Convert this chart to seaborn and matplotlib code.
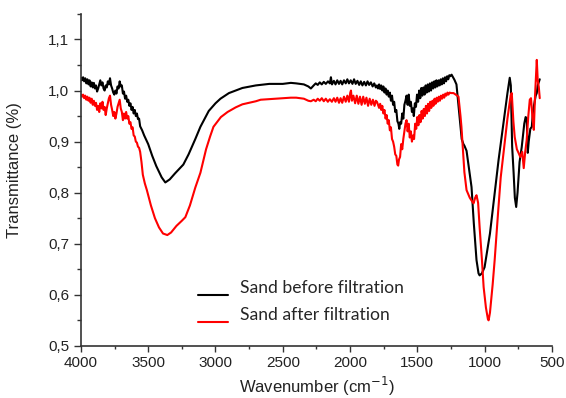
import numpy as np
import pandas as pd
import matplotlib
matplotlib.use("Agg")
import matplotlib.pyplot as plt
import seaborn as sns
from matplotlib.ticker import MultipleLocator, FuncFormatter
from matplotlib.lines import Line2D

# ---- data ----
wn_before = [4000, 3992, 3984, 3976, 3968, 3960, 3952, 3944, 3936, 3928, 3920, 3912, 3904, 3896,
             3888, 3880, 3872, 3864, 3856, 3848, 3840, 3832, 3824, 3816, 3808, 3800, 3792, 3784,
             3776, 3768, 3760, 3752, 3744, 3736, 3728, 3720, 3712, 3704, 3696, 3688, 3680, 3672,
             3664, 3656, 3648, 3640, 3632, 3624, 3616, 3608, 3600, 3592, 3584, 3576, 3568, 3560,
             3545, 3530, 3500, 3470, 3440, 3400, 3373, 3340, 3300, 3239, 3200, 3150, 3112, 3050,
             3000, 2963, 2900, 2800, 2700, 2600, 2500, 2440, 2400, 2343, 2310, 2291,
             2270, 2255, 2240, 2225, 2210, 2195, 2180, 2164, 2150, 2142, 2134, 2120, 2108, 2095,
             2082, 2070, 2058, 2045, 2032, 2020, 2008, 1995, 1982, 1970, 1958, 1945, 1932, 1920,
             1908, 1895, 1882, 1870, 1858, 1845, 1832, 1820, 1808,
             1800, 1792, 1784, 1776, 1768, 1760, 1752, 1744, 1736, 1728, 1720, 1712, 1704, 1696,
             1688, 1680, 1672, 1664, 1656, 1648, 1640, 1634, 1628, 1620, 1612, 1604, 1596, 1588,
             1580, 1572, 1564, 1556, 1548, 1540, 1532, 1526, 1518, 1510, 1502, 1494, 1486, 1478,
             1470, 1462, 1454, 1446, 1438, 1430, 1422, 1414, 1406, 1398, 1390, 1382, 1374, 1366,
             1358, 1350, 1342, 1334, 1326, 1318, 1310, 1302, 1294, 1286, 1278, 1270, 1262, 1254,
             1245, 1224, 1209, 1187, 1170, 1157, 1150, 1134, 1120, 1097, 1080, 1060, 1045, 1037,
             1020, 1000, 960, 920, 896, 860, 830, 813, 805, 795, 784, 775, 765, 755, 740, 724,
             705, 695, 687, 679, 672, 660, 649, 640, 620, 612, 605, 590]
tr_before = [1.025, 1.020, 1.026, 1.018, 1.024, 1.014, 1.022, 1.012, 1.020, 1.008, 1.016, 1.006,
             1.015, 1.004, 1.010, 0.998, 1.004, 1.012, 1.020, 1.010, 1.016, 1.004, 1.000, 1.010,
             1.006, 1.018, 1.012, 1.024, 1.010, 1.004, 0.996, 0.992, 1.000, 0.994, 1.008, 1.004,
             1.018, 1.008, 1.010, 0.994, 0.998, 0.984, 0.990, 0.978, 0.982, 0.970, 0.975, 0.962,
             0.968, 0.955, 0.962, 0.950, 0.955, 0.944, 0.945, 0.930,
             0.922, 0.912, 0.895, 0.872, 0.852, 0.830, 0.820, 0.826, 0.838, 0.855, 0.875, 0.905,
             0.929, 0.960, 0.975, 0.984, 0.995, 1.005, 1.010, 1.013, 1.013, 1.015, 1.014, 1.012,
             1.008, 1.004,
             1.010, 1.014, 1.011, 1.016, 1.012, 1.017, 1.013, 1.018, 1.014, 1.026, 1.012, 1.019,
             1.012, 1.020, 1.013, 1.019, 1.012, 1.020, 1.014, 1.022, 1.014, 1.020, 1.013, 1.022,
             1.013, 1.019, 1.011, 1.018, 1.010, 1.017, 1.010, 1.018, 1.011, 1.016, 1.008, 1.014,
             1.006,
             1.010, 1.004, 1.012, 1.003, 1.010, 1.000, 1.008, 0.996, 1.004, 0.992, 1.000, 0.988,
             0.996, 0.980, 0.990, 0.972, 0.978, 0.958, 0.962, 0.940, 0.935, 0.925, 0.938, 0.935,
             0.955, 0.945, 0.972, 0.980, 0.990, 0.972, 0.992, 0.970, 0.978, 0.958, 0.965, 0.950,
             0.975, 0.968, 0.992, 0.978, 1.000, 0.985, 1.005, 0.990, 1.006, 0.992, 1.010, 0.996,
             1.012, 0.998, 1.014, 1.000, 1.016, 1.004, 1.018, 1.006, 1.020, 1.008, 1.020, 1.010,
             1.022, 1.012, 1.024, 1.014, 1.026, 1.018, 1.028, 1.022, 1.030, 1.028,
             1.031, 1.021, 1.012, 0.952, 0.905, 0.895, 0.892, 0.882, 0.855, 0.811, 0.740, 0.668,
             0.642, 0.638, 0.642, 0.654, 0.720, 0.810, 0.864, 0.935, 0.995, 1.025, 1.010, 0.890,
             0.838, 0.790, 0.772, 0.800, 0.860, 0.889, 0.935, 0.948, 0.946, 0.878, 0.900, 0.925,
             0.929, 0.960, 0.990, 0.995, 1.010, 1.022]

wn_after = [4000, 3992, 3984, 3976, 3968, 3960, 3952, 3944, 3936, 3928, 3920, 3912, 3904, 3896,
            3888, 3880, 3872, 3864, 3856, 3848, 3840, 3832, 3824, 3816, 3808, 3800, 3792, 3784,
            3776, 3768, 3760, 3752, 3744, 3736, 3728, 3720, 3712, 3704, 3696, 3688, 3680, 3672,
            3664, 3656, 3648, 3640, 3632, 3624, 3616, 3608, 3600, 3592, 3584, 3576, 3568, 3560,
            3550, 3540, 3525, 3510, 3480, 3450, 3420, 3390, 3358, 3330, 3290, 3250, 3224, 3190,
            3150, 3112, 3070, 3040, 3015, 2960, 2910, 2850, 2800, 2700, 2664, 2550, 2440, 2400,
            2343, 2310, 2291,
            2270, 2255, 2240, 2225, 2210, 2195, 2180, 2165, 2150, 2135, 2120, 2108, 2095, 2082,
            2070, 2058, 2045, 2032, 2020, 2008, 1998, 1993, 1986, 1975, 1962, 1950, 1938, 1926,
            1914, 1902, 1890, 1878, 1866, 1854, 1842, 1830, 1818, 1808,
            1800, 1792, 1784, 1776, 1768, 1760, 1752, 1744, 1736, 1728, 1720, 1712, 1704, 1696,
            1688, 1680, 1672, 1664, 1656, 1648, 1642, 1636, 1628, 1620, 1612, 1604, 1596, 1588,
            1580, 1572, 1564, 1556, 1548, 1540, 1532, 1524, 1516, 1508, 1500, 1492, 1484, 1476,
            1468, 1460, 1452, 1444, 1436, 1428, 1420, 1412, 1404, 1396, 1388, 1380, 1372, 1364,
            1356, 1348, 1340, 1332, 1324, 1316, 1308, 1300, 1292, 1284, 1276, 1268, 1260, 1250,
            1231, 1209, 1194, 1179, 1172, 1160, 1150, 1134, 1110, 1090, 1082, 1070, 1060, 1048,
            1037, 1020, 1007, 990, 975, 970, 960, 940, 925, 900, 880, 851, 830, 806, 798, 786,
            776, 760, 746, 735, 720, 709, 698, 687, 675, 664, 655, 645, 634, 625, 612, 605,
            597, 590]
tr_after = [0.992, 0.988, 0.992, 0.985, 0.990, 0.982, 0.988, 0.980, 0.986, 0.976, 0.984, 0.972,
            0.980, 0.970, 0.976, 0.962, 0.970, 0.958, 0.975, 0.965, 0.978, 0.962, 0.968, 0.952,
            0.965, 0.975, 0.985, 0.990, 0.972, 0.962, 0.950, 0.958, 0.945, 0.955, 0.968, 0.975,
            0.982, 0.965, 0.958, 0.942, 0.955, 0.945, 0.958, 0.945, 0.950, 0.935, 0.938, 0.925,
            0.928, 0.912, 0.910, 0.900, 0.898, 0.890, 0.888, 0.880,
            0.860, 0.835, 0.818, 0.805, 0.775, 0.750, 0.732, 0.720, 0.717, 0.722, 0.735, 0.745,
            0.752, 0.775, 0.810, 0.839, 0.885, 0.910, 0.929, 0.948, 0.958, 0.967, 0.973, 0.979,
            0.982, 0.984, 0.986, 0.986, 0.984, 0.980, 0.979,
            0.982, 0.979, 0.984, 0.980, 0.985, 0.979, 0.984, 0.978, 0.983, 0.978, 0.985, 0.978,
            0.986, 0.976, 0.985, 0.976, 0.988, 0.978, 0.990, 0.978, 0.996, 1.000, 0.980, 0.990,
            0.975, 0.990, 0.974, 0.988, 0.972, 0.988, 0.974, 0.986, 0.970, 0.984, 0.972, 0.982,
            0.970, 0.980,
            0.978, 0.972, 0.966, 0.974, 0.962, 0.970, 0.955, 0.962, 0.945, 0.952, 0.935, 0.942,
            0.922, 0.928, 0.905, 0.900, 0.890, 0.875, 0.872, 0.855, 0.853, 0.865, 0.870, 0.895,
            0.885, 0.905, 0.920, 0.935, 0.942, 0.920, 0.935, 0.908, 0.920, 0.900, 0.912, 0.905,
            0.935, 0.925, 0.948, 0.932, 0.952, 0.938, 0.960, 0.945, 0.964, 0.950, 0.970, 0.955,
            0.974, 0.960, 0.978, 0.966, 0.980, 0.970, 0.984, 0.974, 0.986, 0.978, 0.988, 0.980,
            0.990, 0.984, 0.992, 0.986, 0.994, 0.990, 0.996, 0.992, 0.996, 0.995,
            0.995, 0.991, 0.988, 0.950, 0.929, 0.880, 0.840, 0.805, 0.790, 0.782, 0.779, 0.790,
            0.795, 0.780, 0.733, 0.670, 0.615, 0.575, 0.552, 0.550, 0.565, 0.620, 0.668, 0.760,
            0.830, 0.897, 0.945, 0.991, 0.995, 0.940, 0.909, 0.885, 0.877, 0.870, 0.880, 0.848,
            0.880, 0.903, 0.950, 0.982, 0.985, 0.950, 0.923, 0.990, 1.060, 1.020, 1.007, 0.985]

series_names = ["Sand before filtration", "Sand after filtration"]
series_colors = ["#000000", "#ff0000"]
x_ticks = [4000, 3500, 3000, 2500, 2000, 1500, 1000, 500]
y_ticks = [0.5, 0.6, 0.7, 0.8, 0.9, 1.0, 1.1]

df = pd.concat([
    pd.DataFrame({"wn": wn_before, "tr": tr_before, "series": series_names[0]}),
    pd.DataFrame({"wn": wn_after, "tr": tr_after, "series": series_names[1]}),
], ignore_index=True)

sns.set_style("ticks")
plt.rcParams["font.family"] = ["Liberation Sans", "DejaVu Sans"]

fig = plt.figure(figsize=(5.66, 3.98), dpi=100)
ax = fig.add_axes([0.143, 0.131, 0.832, 0.834])

sns.lineplot(data=df, x="wn", y="tr", hue="series", hue_order=series_names,
             palette=series_colors, estimator=None, sort=True, linewidth=1.5, ax=ax,
             legend=False)

ax.set_xlim(4000, 500)
ax.set_ylim(0.5, 1.15)
ax.set_xticks(x_ticks)
ax.set_yticks(y_ticks)
ax.xaxis.set_minor_locator(MultipleLocator(250))
ax.yaxis.set_minor_locator(MultipleLocator(0.05))
ax.yaxis.set_major_formatter(FuncFormatter(lambda v, p: f"{v:.1f}".replace(".", ",")))

for s in ["top", "right"]:
    ax.spines[s].set_visible(False)
for s in ["left", "bottom"]:
    ax.spines[s].set_color("#333333")
    ax.spines[s].set_linewidth(1.2)

ax.tick_params(axis="both", which="both", direction="out", colors="#333333",
               labelcolor="#222222", labelsize=11, width=1.0)
ax.tick_params(axis="x", which="major", length=4)
ax.tick_params(axis="x", which="minor", length=2)
ax.tick_params(axis="y", which="major", length=5)
ax.tick_params(axis="y", which="minor", length=3)

ax.set_xlabel("Wavenumber (cm$^{-1}$)", fontsize=12, color="#222222", labelpad=3)
ax.set_ylabel("Transmittance (%)", fontsize=12, color="#222222", labelpad=14)
ax.yaxis.set_label_coords(-0.125, 0.53)

handles = [Line2D([], [], color=c, lw=1.5) for c in series_colors]
leg = ax.legend(handles, series_names, loc="upper left", bbox_to_anchor=(0.248, 0.198),
                frameon=False, borderaxespad=0, borderpad=0, handlelength=1.75,
                handletextpad=0.65, labelspacing=0.63,
                prop={"family": ["Lato", "DejaVu Sans"], "size": 12.6})
for ln in leg.get_lines():
    ln.set_ydata([y - 6 for y in ln.get_ydata()])

fig.savefig("out.png", dpi=100)
